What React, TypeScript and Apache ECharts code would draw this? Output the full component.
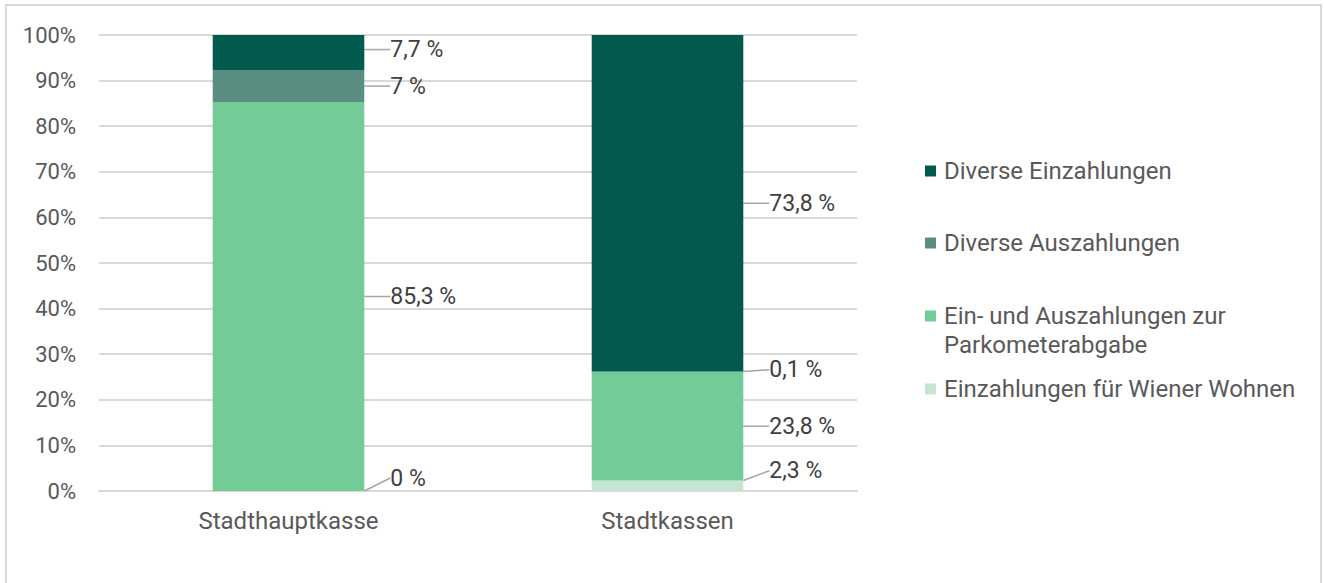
import React, { useEffect, useRef } from "react";
import * as echarts from "echarts";

const categories = ["Stadthauptkasse", "Stadtkassen"];
const wienerWohnen = [0, 2.3];
const parkometer = [85.3, 23.8];
const auszahlungen = [7, 0.1];
const einzahlungen = [7.7, 73.8];
const yTicks = [0, 10, 20, 30, 40, 50, 60, 70, 80, 90, 100];

const N_EIN = "Diverse Einzahlungen";
const N_AUS = "Diverse Auszahlungen";
const N_PARK = "Ein- und Auszahlungen zur Parkometerabgabe";
const N_WW = "Einzahlungen für Wiener Wohnen";

const COLORS: Record<string, string> = {
  [N_EIN]: "#025a4f",
  [N_AUS]: "#5a8e83",
  [N_PARK]: "#73cc98",
  [N_WW]: "#c5e4d1",
};

const FONT = "Roboto";
const TXT = "#595959";

// label nudges (pixels) per series name / data index
const LABEL_DY: Record<string, number[]> = {
  [N_WW]: [-13, -15],
  [N_PARK]: [0, 0],
  [N_AUS]: [0, -2],
  [N_EIN]: [-3, 0],
};

export default function App() {
  const ref = useRef<HTMLDivElement>(null);
  useEffect(() => {
    if (!ref.current) return;
    const chart = echarts.init(ref.current, undefined, { renderer: "svg" });
    const mk = (name: string, data: number[]) => ({
      name,
      type: "bar",
      stack: "total",
      barWidth: "40%",
      data,
      itemStyle: { color: COLORS[name] },
      label: {
        show: true,
        position: "right",
        distance: 20,
        padding: [0, 0, 0, 6],
        fontFamily: FONT,
        fontSize: 23,
        color: "#404040",
        formatter: (p: any) => `${String(p.value).replace(".", ",")} %`,
      },
      labelLine: { show: true, lineStyle: { color: "#a6a6a6", width: 1.5 } },
      labelLayout: (p: any) => ({ dy: (LABEL_DY[name] || [0, 0])[p.dataIndex] || 0 }),
    });
    const legendBase = {
      orient: "vertical",
      left: 925,
      padding: 0,
      itemWidth: 11,
      itemHeight: 11,
      itemGap: 8,
      icon: "rect",
      selectedMode: false,
      textStyle: { fontFamily: FONT, fontSize: 24, color: TXT, lineHeight: 28, padding: [0, 0, 0, 3] },
    };
    chart.setOption({
      animation: false,
      textStyle: { fontFamily: FONT },
      grid: { left: 99, right: 467, top: 35, bottom: 92 },
      legend: [
        { ...legendBase, top: 157, data: [N_EIN] },
        { ...legendBase, top: 229, data: [N_AUS] },
        { ...legendBase, top: 302, data: [N_PARK], formatter: () => "Ein- und Auszahlungen zur" },
        { ...legendBase, top: 375, data: [N_WW] },
      ],
      graphic: [
        {
          type: "rect",
          shape: { x: 6, y: 5, width: 1315, height: 640 },
          style: { fill: "none", stroke: "#d9d9d9", lineWidth: 2 },
          silent: true,
        },
        {
          type: "text",
          left: 944,
          top: 331,
          style: { text: "Parkometerabgabe", fontFamily: FONT, fontSize: 24, lineHeight: 28, fill: TXT },
        },
      ],
      xAxis: {
        type: "category",
        data: categories,
        axisLine: { lineStyle: { color: "#d9d9d9", width: 2 } },
        axisTick: { show: false },
        axisLabel: { fontFamily: FONT, fontSize: 24, color: TXT, margin: 18 },
      },
      yAxis: {
        type: "value",
        min: yTicks[0],
        max: yTicks[yTicks.length - 1],
        interval: 10,
        axisLine: { show: false },
        axisTick: { show: false },
        splitLine: { lineStyle: { color: "#d9d9d9", width: 2 } },
        axisLabel: { fontFamily: FONT, fontSize: 22, color: TXT, margin: 23, formatter: "{value}%" },
      },
      series: [
        mk(N_WW, wienerWohnen),
        mk(N_PARK, parkometer),
        mk(N_AUS, auszahlungen),
        mk(N_EIN, einzahlungen),
      ],
    });
    return () => chart.dispose();
  }, []);
  return (
    <div
      ref={ref}
      style={{ position: "fixed", left: 0, top: 0, width: 1324, height: 583, background: "#fff" }}
    />
  );
}
